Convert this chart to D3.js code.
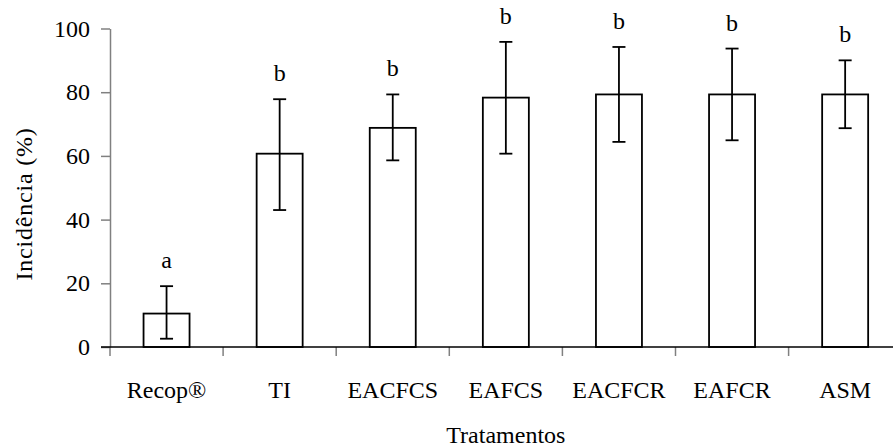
<!DOCTYPE html>
<html>
<head>
<meta charset="utf-8">
<script src="https://cdn.jsdelivr.net/npm/d3@7"></script>
<style>
  body { margin: 0; background: #fff; }
  text { font-family: "Liberation Serif", "Times New Roman", serif; }
</style>
</head>
<body>
<div id="chart"></div>
<script>
// data
let categories = ["Recop®", "TI", "EACFCS", "EAFCS", "EACFCR", "EAFCR", "ASM"];
let incidence = [10.5, 60.7, 68.8, 78.3, 79.3, 79.3, 79.3];
let errLow = [2.6, 43.0, 58.6, 60.7, 64.4, 64.9, 68.7];
let errHigh = [19.1, 77.8, 79.3, 95.8, 94.2, 93.7, 90.0];
let letters = ["a", "b", "b", "b", "b", "b", "b"];
let yTicks = [0, 20, 40, 60, 80, 100];

function loadGraph() {
    let plotWidth = 893;
    let plotHeight = 448;

    let margin = { top: 28.5, left: 110, bottom: 101 };
    let band = 113.1;
    let barWidth = 46;

    let svg = d3.select("#chart")
        .append("svg")
        .attr("width", plotWidth)
        .attr("height", plotHeight);

    let data = categories.map((c, i) => ({
        cat: c, value: incidence[i], lo: errLow[i], hi: errHigh[i], letter: letters[i]
    }));

    let xScale = d3.scaleBand()
        .domain(categories)
        .range([margin.left, margin.left + band * categories.length]);

    let yScale = d3.scaleLinear()
        .domain([0, 100])
        .range([plotHeight - margin.bottom, margin.top]);

    let y0 = yScale(0);

    // bars
    svg.selectAll("rect.bar")
        .data(data)
        .enter()
        .append("rect")
        .attr("class", "bar")
        .attr("x", d => xScale(d.cat) + xScale.bandwidth() / 2 - barWidth / 2)
        .attr("y", d => yScale(d.value))
        .attr("width", barWidth)
        .attr("height", d => y0 - yScale(d.value))
        .attr("fill", "#fff")
        .attr("stroke", "#000")
        .attr("stroke-width", 1.8);

    // error bars
    let cx = d => xScale(d.cat) + xScale.bandwidth() / 2;
    let err = svg.append("g")
        .attr("stroke", "#000")
        .attr("stroke-width", 1.8);

    err.selectAll("line.v")
        .data(data)
        .enter()
        .append("line")
        .attr("x1", cx).attr("x2", cx)
        .attr("y1", d => yScale(d.lo))
        .attr("y2", d => yScale(d.hi));

    err.selectAll("line.top")
        .data(data)
        .enter()
        .append("line")
        .attr("x1", d => cx(d) - 6.5).attr("x2", d => cx(d) + 6.5)
        .attr("y1", d => yScale(d.hi)).attr("y2", d => yScale(d.hi));

    err.selectAll("line.bottom")
        .data(data)
        .enter()
        .append("line")
        .attr("x1", d => cx(d) - 6.5).attr("x2", d => cx(d) + 6.5)
        .attr("y1", d => yScale(d.lo)).attr("y2", d => yScale(d.lo));

    // significance letters
    svg.selectAll("text.letter")
        .data(data)
        .enter()
        .append("text")
        .attr("class", "letter")
        .text(d => d.letter)
        .attr("x", cx)
        .attr("y", d => yScale(d.hi) - 18)
        .attr("text-anchor", "middle")
        .attr("font-size", "24px")
        .attr("fill", "#000");

    // y axis
    let yAxis = d3.axisLeft(yScale)
        .tickValues(yTicks)
        .tickSize(9)
        .tickPadding(11)
        .tickSizeOuter(0);

    let yg = svg.append("g")
        .attr("transform", `translate(${margin.left}, 0)`)
        .call(yAxis);
    yg.select(".domain").attr("stroke", "#808080").attr("stroke-width", 1.5);
    yg.selectAll(".tick line").attr("stroke", "#808080").attr("stroke-width", 1.5);
    yg.selectAll(".tick text")
        .attr("font-size", "24px")
        .attr("fill", "#000");

    // x axis: ticks between categories
    let xEdges = d3.range(categories.length).map(i => xScale(categories[i]));
    svg.append("g")
        .selectAll("line")
        .data(xEdges)
        .enter()
        .append("line")
        .attr("x1", d => d).attr("x2", d => d)
        .attr("y1", y0).attr("y2", y0 + 9)
        .attr("stroke", "#808080")
        .attr("stroke-width", 1.5);

    svg.append("line")
        .attr("x1", margin.left - 9)
        .attr("x2", xScale.range()[1])
        .attr("y1", y0).attr("y2", y0)
        .attr("stroke", "#000")
        .attr("stroke-width", 1.5);

    svg.selectAll("text.cat")
        .data(data)
        .enter()
        .append("text")
        .attr("class", "cat")
        .text(d => d.cat)
        .attr("x", cx)
        .attr("y", 397.5)
        .attr("text-anchor", "middle")
        .attr("font-size", "24px")
        .attr("fill", "#000");

    // axis titles
    svg.append("text")
        .text("Tratamentos")
        .attr("x", (xScale.range()[0] + xScale.range()[1]) / 2)
        .attr("y", 443)
        .attr("text-anchor", "middle")
        .attr("font-size", "24px")
        .attr("fill", "#000");

    svg.append("text")
        .text("Incidência (%)")
        .attr("transform", "translate(32, 204) rotate(-90)")
        .attr("text-anchor", "middle")
        .attr("font-size", "24px")
        .attr("letter-spacing", "0.8px")
        .attr("fill", "#000");
}

loadGraph();
</script>
</body>
</html>
